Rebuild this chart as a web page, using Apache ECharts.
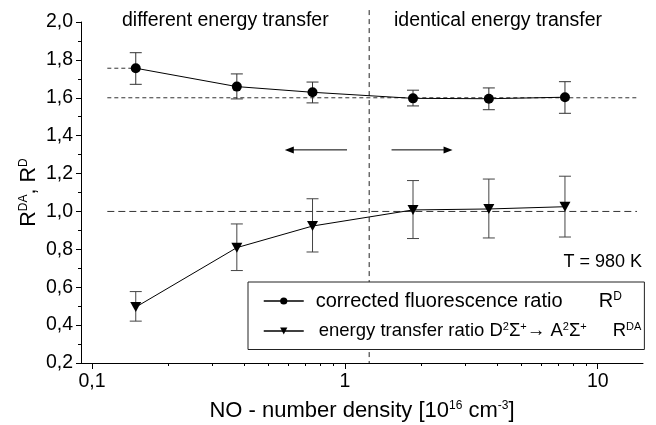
<!DOCTYPE html>
<html>
<head>
<meta charset="utf-8">
<script src="https://cdn.jsdelivr.net/npm/echarts@6/dist/echarts.min.js"></script>
<style>
  html, body { margin: 0; padding: 0; background: #fff; }
  #chart { width: 656px; height: 425px; }
</style>
</head>
<body>
<div id="chart"></div>
<script>
// NO number density, 10^16 cm^-3
const density = [0.149, 0.374, 0.745, 1.86, 3.71, 7.42];

// corrected fluorescence ratio R^D
const rD = [1.756, 1.659, 1.629, 1.597, 1.595, 1.603];
const rDLow = [1.671, 1.594, 1.573, 1.557, 1.537, 1.518];
const rDHigh = [1.838, 1.726, 1.683, 1.640, 1.652, 1.685];

// energy transfer ratio R^DA
const rDA = [0.495, 0.809, 0.923, 1.008, 1.013, 1.025];
const rDALow = [0.421, 0.688, 0.786, 0.857, 0.860, 0.865];
const rDAHigh = [0.577, 0.934, 1.067, 1.163, 1.171, 1.186];

// axis ticks
const yTicks = [0.2, 0.4, 0.6, 0.8, 1.0, 1.2, 1.4, 1.6, 1.8, 2.0];
const xMajorTicks = [0.1, 1, 10];
const xMinorTicks = [0.2, 0.3, 0.4, 0.5, 0.6, 0.7, 0.8, 0.9, 2, 3, 4, 5, 6, 7, 8, 9];
const xRange = [0.0905, 15.1];

// guide lines and arrows
const levelD = 1.6;
const levelDA = 1.0;
const guideX = [0.115, 14.3];
const boundary = 1.248;
const arrowY = 1.325;
const arrowLeft = [1.02, 0.603];
const arrowRight = [1.53, 2.56];

const FONT = "'Liberation Sans', Arial, sans-serif";
const lg = Math.log10;
const comma = (v) => String(v).replace(".", ",");

function errorBars(lo, hi, color) {
  return {
    type: "custom",
    silent: true,
    z: 1,
    renderItem(params, api) {
      const x = api.value(0);
      const a = api.coord([x, api.value(1)]);
      const b = api.coord([x, api.value(2)]);
      const w = 6;
      const st = { stroke: color, lineWidth: 1 };
      return {
        type: "group",
        children: [
          { type: "line", shape: { x1: a[0], y1: a[1], x2: b[0], y2: b[1] }, style: st },
          { type: "line", shape: { x1: a[0] - w, y1: a[1], x2: a[0] + w, y2: a[1] }, style: st },
          { type: "line", shape: { x1: b[0] - w, y1: b[1], x2: b[0] + w, y2: b[1] }, style: st },
        ],
      };
    },
    encode: { x: 0, y: [1, 2] },
    data: density.map((d, i) => [lg(d), lo[i], hi[i]]),
  };
}

function dashed(points, dash, color, clip) {
  return {
    type: "line",
    silent: true,
    symbol: "none",
    clip: clip,
    z: 1,
    lineStyle: { color: color, width: 1, type: dash },
    data: points,
  };
}

function arrow(xs, rot) {
  return {
    type: "line",
    silent: true,
    z: 2,
    showSymbol: true,
    symbol: (v, p) => (p.dataIndex === 1 ? "triangle" : "none"),
    symbolRotate: rot,
    symbolSize: [7, 9],
    itemStyle: { color: "#000" },
    lineStyle: { color: "#000", width: 1 },
    data: xs.map((x) => [lg(x), arrowY]),
  };
}

const sup = { fontSize: 12, lineHeight: 12, verticalAlign: "top", fontFamily: FONT, color: "#000" };
const sup2 = { fontSize: 11, lineHeight: 11, verticalAlign: "top", fontFamily: FONT, color: "#000" };
const txt = { fontSize: 20, lineHeight: 20, fontFamily: FONT, color: "#000" };
const txt2 = { fontSize: 18.5, lineHeight: 20, fontFamily: FONT, color: "#000" };

let chart = echarts.init(document.getElementById("chart"));
chart.setOption({
  animation: false,
  backgroundColor: "#fff",
  grid: { left: 81, right: 13, top: 22, bottom: 62, containLabel: false, outerBoundsMode: "none" },
  xAxis: [
    {
      type: "value",
      position: "bottom",
      min: lg(xRange[0]),
      max: lg(xRange[1]),
      splitLine: { show: false },
      axisLine: { onZero: false, lineStyle: { color: "#000", width: 1 } },
      axisTick: { customValues: xMajorTicks.map(lg), length: 6, lineStyle: { color: "#000" } },
      axisLabel: {
        customValues: xMajorTicks.map(lg),
        formatter: (v) => comma(+Math.pow(10, v).toPrecision(2)),
        fontSize: 19.5, fontFamily: FONT, color: "#000", margin: 9,
      },
      name: "NO - number density [10{s|16} cm{s|-3}]",
      nameLocation: "middle",
      nameGap: 37,
      nameMoveOverlap: false,
      nameTextStyle: { fontSize: 22, fontFamily: FONT, color: "#000", rich: { s: sup } },
    },
    {
      type: "value",
      position: "bottom",
      min: lg(xRange[0]),
      max: lg(xRange[1]),
      splitLine: { show: false },
      axisLine: { show: false, onZero: false },
      axisTick: { customValues: xMinorTicks.map(lg), length: 3, lineStyle: { color: "#000" } },
      axisLabel: { show: false },
    },
  ],
  yAxis: {
    type: "value",
    min: yTicks[0],
    max: yTicks[yTicks.length - 1],
    interval: 0.2,
    splitLine: { show: false },
    axisLine: { show: true, onZero: false, lineStyle: { color: "#000", width: 1 } },
    axisTick: { show: true, length: 5, lineStyle: { color: "#000" } },
    minorTick: { show: true, splitNumber: 2, length: 3, lineStyle: { color: "#000" } },
    axisLabel: {
      formatter: (v) => v.toFixed(1).replace(".", ","),
      fontSize: 19.5, fontFamily: FONT, color: "#000", margin: 8,
    },
    name: "R{s|DA}, R{s|D}",
    nameLocation: "middle",
    nameGap: 41,
    nameMoveOverlap: false,
    nameTextStyle: { fontSize: 21.5, fontFamily: FONT, color: "#000", rich: { s: sup } },
  },
  legend: {
    left: 248,
    top: 282,
    orient: "vertical",
    padding: [9, 3, 9, 15],
    itemGap: 10,
    itemWidth: 40,
    itemHeight: 9,
    borderColor: "#222",
    borderWidth: 1,
    borderRadius: 0,
    backgroundColor: "#fff",
    z: 10,
    lineStyle: { width: 1.5 },
    data: ["corrected fluorescence ratio", "energy transfer ratio"],
    formatter: (name) =>
      name === "energy transfer ratio"
        ? "{b|energy transfer ratio D}{q|2}{u|Σ}{q|+}{u|→ A}{q|2}{u|Σ}{q|+}{r|R}{q|DA}"
        : "{w|corrected fluorescence ratio}{t|R}{s|D}",
    textStyle: {
      fontSize: 20, fontFamily: FONT, color: "#000",
      rich: {
        t: txt,
        w: Object.assign({ width: 283, padding: [0, 0, 0, 7] }, txt),
        b: Object.assign({ padding: [0, 0, 0, 10] }, txt2),
        u: txt2,
        r: Object.assign({ padding: [0, 0, 0, 26] }, txt2),
        s: sup,
        q: sup2,
      },
    },
  },
  graphic: [
    { type: "text", left: 122, top: 11, style: { text: "different energy transfer", font: "19.5px " + FONT, fill: "#000" } },
    { type: "text", left: 394, top: 11, style: { text: "identical energy transfer", font: "19.5px " + FONT, fill: "#000" } },
    { type: "text", right: 14, top: 253, style: { text: "T = 980 K", font: "18px " + FONT, fill: "#000" } },
  ],
  series: [
    dashed([[lg(guideX[0]), levelD], [lg(guideX[1]), levelD]], [4, 3], "#333", true),
    dashed([[lg(guideX[0]), levelDA], [lg(guideX[1]), levelDA]], [7, 4], "#333", true),
    dashed([[lg(guideX[0]), rD[0]], [lg(density[0]), rD[0]]], [4, 3], "#333", true),
    dashed([[lg(boundary), 2.063], [lg(boundary), yTicks[0]]], [5, 4], "#222", false),
    arrow(arrowLeft, 90),
    arrow(arrowRight, -90),
    errorBars(rDLow, rDHigh, "#333"),
    errorBars(rDALow, rDAHigh, "#444"),
    {
      name: "corrected fluorescence ratio",
      type: "line",
      z: 3,
      symbol: "circle",
      symbolSize: 10,
      itemStyle: { color: "#000" },
      lineStyle: { color: "#000", width: 1 },
      data: density.map((d, i) => [lg(d), rD[i]]),
    },
    {
      name: "energy transfer ratio",
      type: "line",
      z: 3,
      symbol: "triangle",
      symbolRotate: 180,
      symbolSize: [11, 10],
      itemStyle: { color: "#000" },
      lineStyle: { color: "#000", width: 1 },
      data: density.map((d, i) => [lg(d), rDA[i]]),
    },
  ],
});
</script>
</body>
</html>
